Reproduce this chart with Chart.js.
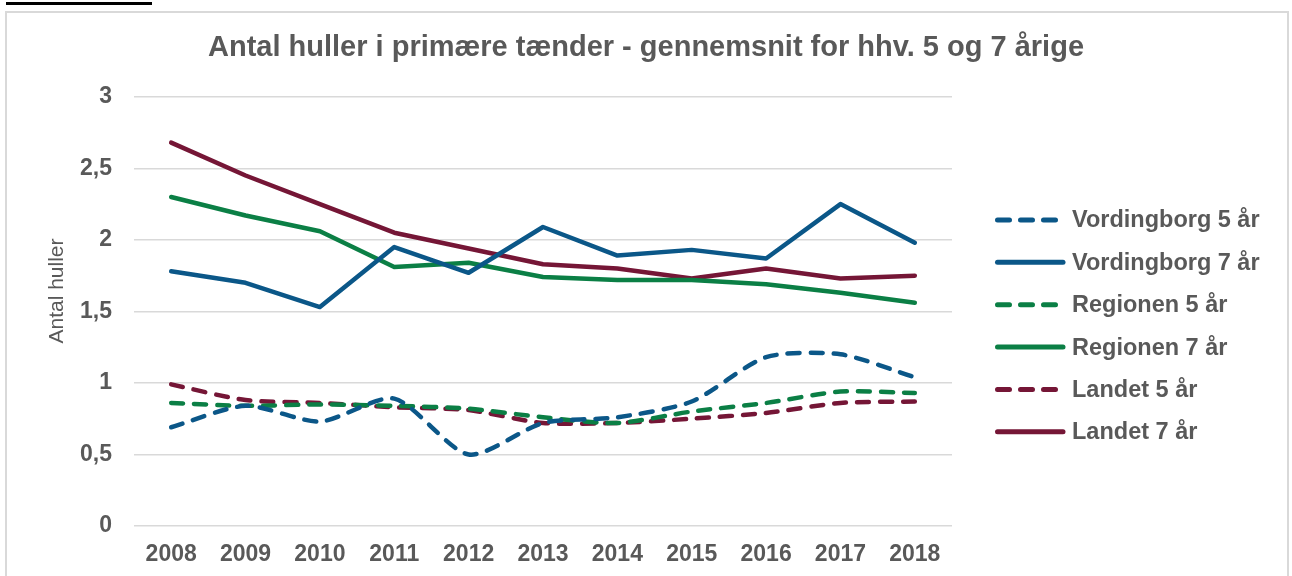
<!DOCTYPE html>
<html lang="da">
<head>
<meta charset="utf-8">
<title>Antal huller i primære tænder</title>
<script src="https://cdn.jsdelivr.net/npm/chart.js@4/dist/chart.umd.min.js"></script>
<style>
    body { margin: 0; background: #fff; }
    #wrap { position: relative; width: 1292px; height: 576px; overflow: hidden; }
    #ramme { position: absolute; left: 5px; top: 11px; width: 1284px; height: 620px; border: 2px solid #d9d9d9; box-sizing: border-box; }
    #streg { position: absolute; left: 6px; top: 2px; width: 146px; height: 3px; background: #000; }
    #graf { position: absolute; left: 0; top: 0; }
</style>
</head>
<body>
<div id="wrap">
    <div id="streg"></div>
    <div id="ramme"></div>
    <canvas id="graf" width="1292" height="576"></canvas>
</div>
<script>
// Data
const aar = ['2008', '2009', '2010', '2011', '2012', '2013', '2014', '2015', '2016', '2017', '2018'];
const vordingborg5 = [0.69, 0.84, 0.73, 0.89, 0.50, 0.72, 0.76, 0.87, 1.18, 1.20, 1.04];
const vordingborg7 = [1.78, 1.70, 1.53, 1.95, 1.77, 2.09, 1.89, 1.93, 1.87, 2.25, 1.98];
const regionen5 = [0.86, 0.84, 0.85, 0.84, 0.82, 0.76, 0.72, 0.80, 0.86, 0.94, 0.93];
const regionen7 = [2.30, 2.17, 2.06, 1.81, 1.84, 1.74, 1.72, 1.72, 1.69, 1.63, 1.56];
const landet5 = [0.99, 0.88, 0.86, 0.83, 0.81, 0.72, 0.72, 0.75, 0.79, 0.86, 0.87];
const landet7 = [2.68, 2.45, 2.25, 2.05, 1.94, 1.83, 1.80, 1.73, 1.80, 1.73, 1.75];
const yTicks = [0, 0.5, 1, 1.5, 2, 2.5, 3];

const BLAA = '#0b5788';
const GROEN = '#0b7f45';
const ROED = '#751636';
const GRAA = '#595959';
const FONT = '"Liberation Sans", Arial, sans-serif';
const STIPLET = [12, 11];

document.addEventListener('DOMContentLoaded', function() {
    initGraf();
});

// Lav et datasæt - stiplede linjer er udglattede som i Excel
function serie(label, data, farve, stiplet) {
    return {
        label: label,
        data: data,
        borderColor: farve,
        backgroundColor: farve,
        borderWidth: 4.5,
        borderDash: stiplet ? STIPLET : [],
        borderCapStyle: 'round',
        borderJoinStyle: 'round',
        tension: stiplet ? 0.25 : 0,
        pointRadius: 0,
        fill: false
    };
}

// Egen forklaring til højre (som i Excel)
var forklaring = {
    id: 'forklaring',
    afterDraw: function(chart) {
        var ctx = chart.ctx;
        ctx.save();
        ctx.font = 'bold 23.5px ' + FONT;
        ctx.textBaseline = 'middle';
        chart.data.datasets.forEach(function(ds, i) {
            var y = 220 + i * 42.35;
            var stiplet = ds.borderDash.length > 0;
            ctx.strokeStyle = ds.borderColor;
            ctx.lineWidth = 5;
            ctx.lineCap = 'round';
            ctx.setLineDash(ds.borderDash);
            ctx.beginPath();
            ctx.moveTo(997.5, y);
            ctx.lineTo(stiplet ? 1056 : 1063, y);
            ctx.stroke();
            ctx.setLineDash([]);
            ctx.fillStyle = GRAA;
            ctx.fillText(ds.label, 1072, y + 1);
        });
        ctx.restore();
    }
};

// Aksetitel, lidt over midten som i originalen
var aksetitel = {
    id: 'aksetitel',
    afterDraw: function(chart) {
        var ctx = chart.ctx;
        ctx.save();
        ctx.translate(57, 291);
        ctx.rotate(-Math.PI / 2);
        ctx.font = '21px ' + FONT;
        ctx.fillStyle = GRAA;
        ctx.textAlign = 'center';
        ctx.textBaseline = 'middle';
        ctx.fillText('Antal huller', 0, 0);
        ctx.restore();
    }
};

function initGraf() {
    var ctx = document.getElementById('graf');
    if (!ctx) return;

    new Chart(ctx, {
        type: 'line',
        data: {
            labels: aar,
            datasets: [
                serie('Vordingborg 5 år', vordingborg5, BLAA, true),
                serie('Vordingborg 7 år', vordingborg7, BLAA, false),
                serie('Regionen 5 år', regionen5, GROEN, true),
                serie('Regionen 7 år', regionen7, GROEN, false),
                serie('Landet 5 år', landet5, ROED, true),
                serie('Landet 7 år', landet7, ROED, false)
            ]
        },
        options: {
            responsive: false,
            animation: false,
            layout: {
                padding: 0
            },
            plugins: {
                legend: { display: false },
                tooltip: { enabled: false },
                title: {
                    display: true,
                    text: 'Antal huller i primære tænder - gennemsnit for hhv. 5 og 7 årige',
                    color: GRAA,
                    font: { family: FONT, size: 29, weight: 'bold' },
                    padding: { top: 31, bottom: 31 }
                }
            },
            scales: {
                x: {
                    offset: true,
                    grid: { display: false, drawTicks: false },
                    border: { display: false },
                    ticks: {
                        color: GRAA,
                        padding: 15,
                        maxRotation: 0,
                        font: { family: FONT, size: 23, weight: 'bold' }
                    },
                    afterFit: function(scale) { scale.height = 50; }
                },
                y: {
                    min: 0,
                    max: 3,
                    grid: { color: '#d9d9d9', lineWidth: 1.5, drawTicks: false },
                    border: { display: false },
                    afterBuildTicks: function(scale) {
                        scale.ticks = yTicks.map(function(v) { return { value: v }; });
                    },
                    ticks: {
                        color: GRAA,
                        padding: 22,
                        font: { family: FONT, size: 23, weight: 'bold' },
                        callback: function(v) { return String(v).replace('.', ','); }
                    },
                    afterFit: function(scale) { scale.width = 134; }
                },
                // tom akse til højre der giver plads til forklaringen
                plads: {
                    type: 'linear',
                    position: 'right',
                    grid: { display: false, drawTicks: false },
                    border: { display: false },
                    ticks: { display: false },
                    afterFit: function(scale) { scale.width = 340; }
                }
            }
        },
        plugins: [forklaring, aksetitel]
    });
}
</script>
</body>
</html>
